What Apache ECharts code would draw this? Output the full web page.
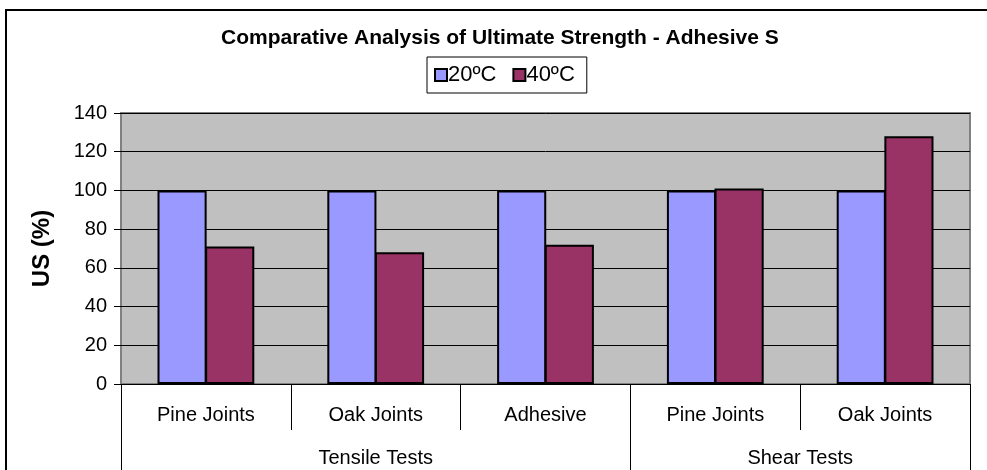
<!DOCTYPE html>
<html>
<head>
<meta charset="utf-8">
<script src="https://cdn.jsdelivr.net/npm/echarts@6/dist/echarts.min.js"></script>
<style>
  html, body { margin: 0; padding: 0; background: #fff; }
  #chart { width: 987px; height: 470px; }
</style>
</head>
<body>
<div id="chart"></div>
<script>
// Sub-categories along the x axis, left to right
const subLabels = ['Pine Joints', 'Oak Joints', 'Adhesive', 'Pine Joints', 'Oak Joints'];
// Test groups spanning the sub-categories
const groupLabels = ['Tensile Tests', 'Shear Tests'];
const groupSpans = [3, 2];
// Ultimate strength relative to 20ºC (%)
const seriesNames = ['20ºC', '40ºC'];
const us20 = [100, 100, 100, 100, 100];
const us40 = [71, 68, 72, 101, 128];
// Value axis ticks
const yMin = 0, yMax = 140, yStep = 20;

// Group boundaries and centres in category units
const groupEdges = [0];
const groupCenters = [];
groupSpans.forEach((s, i) => {
  const start = groupEdges[i];
  groupEdges.push(start + s);
  groupCenters.push(start + s / 2);
});

const FONT = '"Liberation Sans", Arial, sans-serif';
const chart = echarts.init(document.getElementById('chart'), null, { renderer: 'canvas' });

chart.setOption({
  animation: false,
  backgroundColor: '#fff',
  textStyle: { fontFamily: FONT, color: '#000' },
  title: {
    text: 'Comparative Analysis of Ultimate Strength - Adhesive S',
    left: 221,
    top: 28,
    padding: 0,
    textStyle: { fontFamily: FONT, fontSize: 21, fontWeight: 'bold', color: '#000' }
  },
  legend: {
    data: seriesNames,
    left: 427,
    top: 57,
    padding: [7, 12, 7, 7],
    itemGap: 16,
    itemWidth: 12,
    itemHeight: 12,
    icon: 'rect',
    borderColor: '#000',
    borderWidth: 1,
    backgroundColor: '#fff',
    textStyle: { fontFamily: FONT, fontSize: 22, color: '#000', padding: [0, 0, 0, -4] }
  },
  graphic: [{
    type: 'rect',
    silent: true,
    shape: { x: 6, y: 10, width: 1000, height: 500 },
    style: { fill: 'none', stroke: '#000', lineWidth: 2 }
  }],
  grid: {
    left: 121, right: 17, top: 113, bottom: 86,
    show: true,
    backgroundColor: '#C0C0C0',
    borderColor: '#808080',
    borderWidth: 2
  },
  xAxis: [{
    type: 'category',
    data: subLabels,
    position: 'bottom',
    axisLine: { show: true, lineStyle: { color: '#000', width: 1 } },
    axisTick: { show: true, interval: 0, length: 46, lineStyle: { color: '#000', width: 1 } },
    axisLabel: { interval: 0, margin: 21, fontFamily: FONT, fontSize: 20, color: '#000' },
    splitLine: { show: false }
  }, {
    type: 'value',
    min: 0,
    max: subLabels.length,
    position: 'bottom',
    axisLine: { show: false },
    axisTick: { show: true, customValues: groupEdges, length: 95, lineStyle: { color: '#000', width: 1 } },
    axisLabel: {
      customValues: groupCenters,
      margin: 64,
      fontFamily: FONT, fontSize: 20, color: '#000',
      formatter: v => groupLabels[groupCenters.indexOf(v)] || ''
    },
    splitLine: { show: false }
  }],
  yAxis: {
    type: 'value',
    min: yMin, max: yMax, interval: yStep,
    name: 'US (%)',
    nameLocation: 'middle',
    nameGap: 67,
    nameTextStyle: { fontFamily: FONT, fontSize: 24, fontWeight: 'bold', color: '#000' },
    axisLine: { show: false },
    axisTick: { show: true, length: 7, lineStyle: { color: '#000', width: 1 } },
    axisLabel: { margin: 14, fontFamily: FONT, fontSize: 20, color: '#000' },
    splitLine: { show: true, lineStyle: { color: '#000', width: 1 } }
  },
  series: [{
    name: seriesNames[0],
    type: 'bar',
    data: us20,
    barGap: '-3%',
    barCategoryGap: '43%',
    itemStyle: { color: '#9999FF', borderColor: '#000', borderWidth: 2 }
  }, {
    name: seriesNames[1],
    type: 'bar',
    data: us40,
    barGap: '-3%',
    barCategoryGap: '43%',
    itemStyle: { color: '#993366', borderColor: '#000', borderWidth: 2 }
  }]
});
</script>
</body>
</html>
